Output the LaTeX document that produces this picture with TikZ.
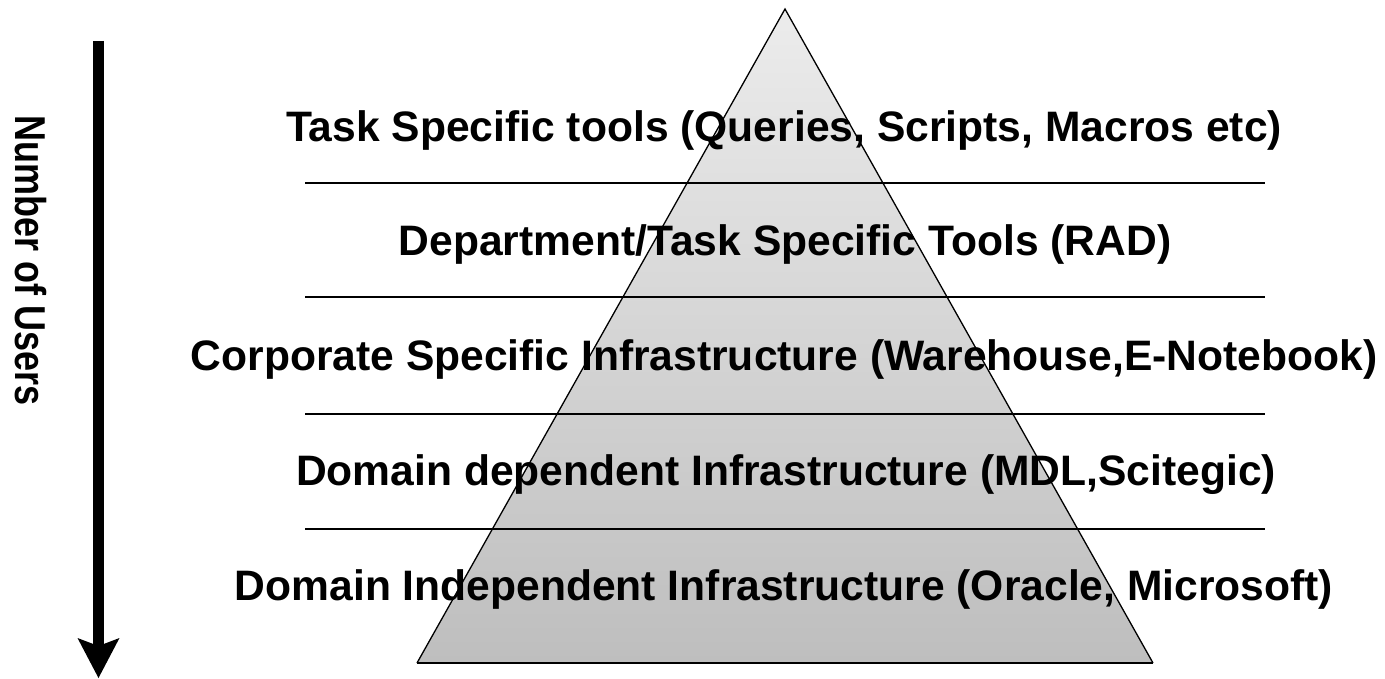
\documentclass[tikz,border=0pt]{standalone}
\usepackage{fontspec}
\setmainfont{Liberation Sans}
\usetikzlibrary{arrows.meta,positioning}
\definecolor{pyrtop}{RGB}{236,236,236}
\definecolor{pyrbottom}{RGB}{190,190,190}

\begin{document}
\begin{tikzpicture}[x=1pt,y=-1pt]
            \tikzstyle{layer}=[anchor=base,inner sep=0pt,
            font=\fontsize{42.6}{46}\selectfont\bfseries]
            \tikzstyle{divider}=[line width=1.3pt]
            \useasboundingbox (0,0) rectangle (1385,679);

            % pyramid
            \coordinate (apex) at (785,9);
            \coordinate (baseleft) at (417,663);
            \coordinate (baseright) at (1153,663);
            \shade [top color=pyrtop,bottom color=pyrbottom] (apex) -- (baseleft) -- (baseright) -- cycle;
            \draw [line width=1.3pt] (baseleft) -- (apex) -- (baseright);
            \draw [line width=2.2pt] (baseleft) -- (baseright);

            % dividers between the layers
            \coordinate (d1l) at (305,183); \coordinate (d1r) at (1265,183);
            \coordinate (d2l) at (305,297); \coordinate (d2r) at (1265,297);
            \coordinate (d3l) at (305,414); \coordinate (d3r) at (1265,414);
            \coordinate (d4l) at (305,529); \coordinate (d4r) at (1265,529);
            \draw [divider] (d1l) -- (d1r);
            \draw [divider] (d2l) -- (d2r);
            \draw [divider] (d3l) -- (d3r);
            \draw [divider] (d4l) -- (d4r);

            \node [layer] (tasktools) at (784,142) {Task Specific tools (Queries, Scripts, Macros etc)};
            \node [layer] (depttools) at (785,256) {Department/Task Specific Tools (RAD)};
            \node [layer] (corpinfra) at (784,370) {Corporate Specific Infrastructure (Warehouse,E-Notebook)};
            \node [layer] (depinfra) at (786,485) {Domain dependent Infrastructure (MDL,Scitegic)};
            \node [layer] (indepinfra) at (784,600) {Domain Independent Infrastructure (Oracle, Microsoft)};

            % number of users
            \coordinate (arrowtop) at (98.5,41);
            \coordinate (arrowtip) at (98.5,678);
            \draw [line width=11pt,-{Stealth[length=40pt,width=42pt,inset=8pt,line width=0pt]}] (arrowtop) -- (arrowtip);
            \node [rotate=-90,anchor=base,inner sep=0pt,font=\fontsize{36}{40}\selectfont\bfseries]
                (users) at (16,261) {\scalebox{1}[1.2]{Number of Users}};
        \end{tikzpicture}
\end{document}
